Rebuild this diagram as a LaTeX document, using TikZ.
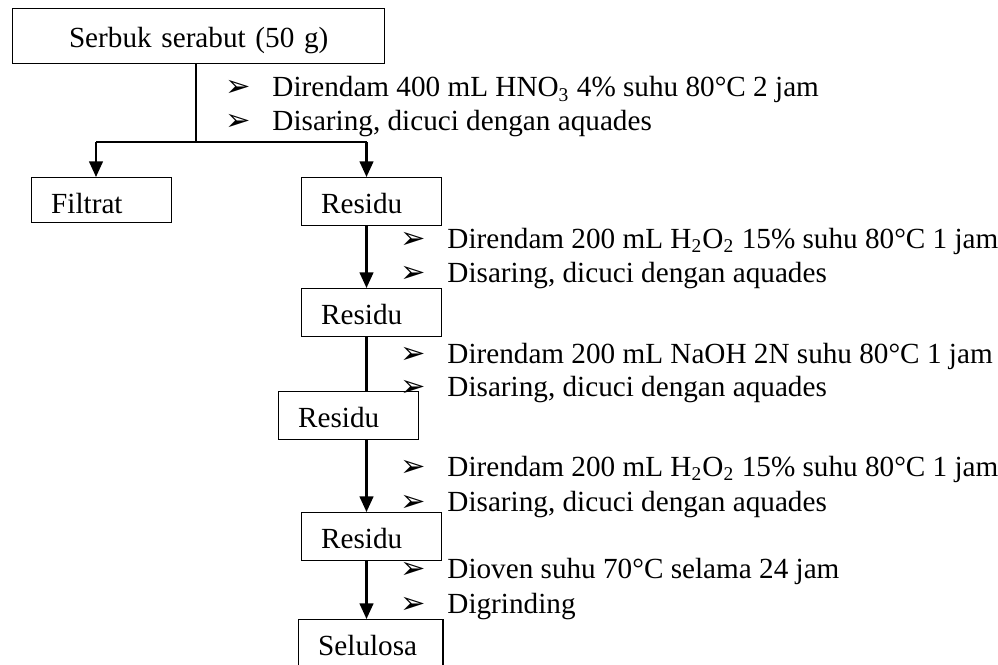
\documentclass[tikz,border=0pt]{standalone}
\usepackage{fontspec}
\setmainfont{Liberation Serif}
\newfontfamily\symfont{DejaVu Sans}
\usetikzlibrary{arrows.meta,positioning}
\tikzset{
  >={Triangle[length=6.4pt,width=5.6pt]},
  box/.style={draw,line width=0.6pt,font=\fontsize{12}{14}\selectfont,inner xsep=8pt,inner ysep=0pt,
    text width=41.5pt,align=left,text height=14.8pt,text depth=4.9pt,anchor=north west},
  tbox/.style={box,text width=136.9pt,align=center,text height=16pt,text depth=6.6pt},
  lab/.style={font=\fontsize{12}{14}\selectfont,anchor=base west,inner sep=0pt},
  ln/.style={draw,line width=0.9pt},
  arr/.style={ln,->},
}
\newcommand{\itm}{\makebox[19.3pt][l]{\symfont\fontsize{12.5}{12}\selectfont ➢}}

\begin{document}
\begin{tikzpicture}[x=0.411pt,y=-0.411pt]
\useasboundingbox (0,0) rectangle (998,665);
% boxes
\node[tbox] (serbuk) at (12,8) {Serbuk serabut (50 g)};
\node[box,text depth=3.7pt] (filt) at (31,177) {Filtrat};
\node[box] (res1) at (301,177) {Residu};
\node[box] (res2) at (301,288) {Residu};
\node[box] (res3) at (278,391) {Residu};
\node[box] (res4) at (301,512) {Residu};
\node[box,text width=43.2pt] (sel) at (298,619) {Selulosa};
% treatments
\node[lab] (t1a) at (225,97) {\itm Direndam 400 mL HNO\textsubscript{3} 4\% suhu 80°C 2 jam};
\node[lab] (t1b) at (225,131) {\itm Disaring, dicuci dengan aquades};
\node[lab] (t2a) at (400,248) {\itm Direndam 200 mL H\textsubscript{2}O\textsubscript{2} 15\% suhu 80°C 1 jam};
\node[lab] (t2b) at (400,282) {\itm Disaring, dicuci dengan aquades};
\node[lab] (t3a) at (400,363) {\itm Direndam 200 mL NaOH 2N suhu 80°C 1 jam};
\node[lab] (t3b) at (400,396) {\itm Disaring, dicuci dengan aquades};
\node[lab] (t4a) at (400,476) {\itm Direndam 200 mL H\textsubscript{2}O\textsubscript{2} 15\% suhu 80°C 1 jam};
\node[lab] (t4b) at (400,511) {\itm Disaring, dicuci dengan aquades};
\node[lab] (t5a) at (400,578) {\itm Dioven suhu 70°C selama 24 jam};
\node[lab] (t5b) at (400,613) {\itm Digrinding};
% connectors
\coordinate (split) at (196,142);
\coordinate (left) at (96,142);
\coordinate (right) at (366.5,142);
\draw[ln] (serbuk.south -| split) -- (split);
\draw[ln] (left) -- (right);
\draw[arr] (left) -- (filt.north -| left);
\draw[arr] (right) -- (res1.north -| right);
\draw[arr] (res1.south -| right) -- (res2.north -| right);
\draw[ln] (res2.south -| right) -- (res3.north -| right);
\draw[arr] (res3.south -| right) -- (res4.north -| right);
\draw[arr] (res4.south -| right) -- (sel.north -| right);
\end{tikzpicture}
\end{document}
